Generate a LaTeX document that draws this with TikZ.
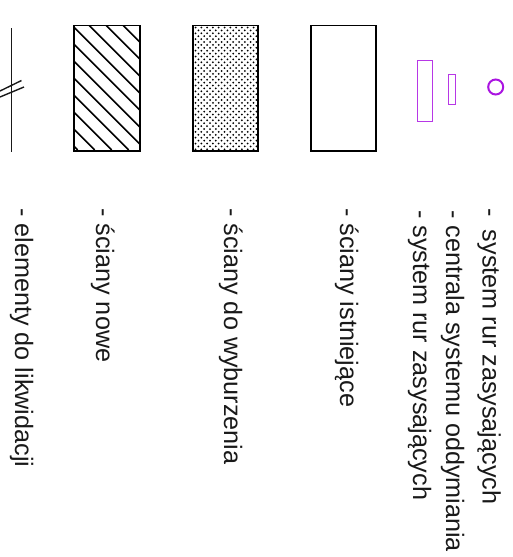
\documentclass[tikz,border=0pt]{standalone}
\usepackage{fontspec}
\setmainfont{Liberation Sans}
\tikzset{
  wall/.style={draw=black,line width=1.4pt},
  thin line/.style={draw=black!90,line width=1.4pt},
  legend/.style={rotate=-90,anchor=base west,font=\fontsize{25.2}{30}\selectfont,inner sep=0pt,text=black!90}
}
\definecolor{pur}{RGB}{170,20,225}
\begin{document}
\begin{tikzpicture}[x=1pt,y=-1pt]
\useasboundingbox (0,0) rectangle (512,557);
% demolition element
\coordinate (ea) at (11.5,28); \coordinate (eb) at (11.5,152);
\draw[thin line] (ea) -- (eb);
\draw[thin line] (0,91) -- (21.5,80.5);
\draw[thin line] (0,97) -- (24,87);
% new walls
\begin{scope}
\clip (74,25.5) rectangle (140,151);
\foreach \k in {-7,...,5} {
  \draw[line width=1.5pt] ({46.7+17*\k+20},20) -- ({46.7+17*\k+150},150);
}
\end{scope}
\node[wall,minimum width=66pt,minimum height=125.5pt,inner sep=0pt] (nw) at (107,88.25) {};
% walls to demolish
\begin{scope}
\clip (193,25.5) rectangle (258,151);
\foreach \i in {0,...,11} \foreach \j in {0,...,22} {
  \fill ({195.5+5.8*\i},{27.5+5.8*\j}) circle (1);
  \fill ({198.4+5.8*\i},{30.4+5.8*\j}) circle (1);
}
\end{scope}
\node[wall,minimum width=65pt,minimum height=125.5pt,inner sep=0pt] (dw) at (225.5,88.25) {};
% existing walls
\node[wall,minimum width=65pt,minimum height=125.5pt,inner sep=0pt] (ew) at (343.5,88.25) {};
% pipes
\node[draw=pur!85,line width=0.8pt,minimum width=15pt,minimum height=61pt,inner sep=0pt] (p1) at (425,90.5) {};
\node[draw=pur!85,line width=0.8pt,minimum width=7pt,minimum height=30pt,inner sep=0pt] (p2) at (452.2,89) {};
\node[draw=pur,line width=2pt,circle,minimum size=15pt,inner sep=0pt] (p3) at (495.7,87) {};
% legend
\node[legend] (t1) at (482.5,208) {-\hspace{0.25em} system rur zasysających};
\node[legend] (t2) at (446,210) {- centrala systemu oddymiania};
\node[legend] (t3) at (413,210) {- system rur zasysających};
\node[legend] (t4) at (340,208) {- ściany istniejące};
\node[legend] (t5) at (224,208) {- ściany do wyburzenia};
\node[legend] (t6) at (96,208) {- ściany nowe};
\node[legend] (t7) at (15,208) {- elementy do likwidacji};
\end{tikzpicture}
\end{document}
